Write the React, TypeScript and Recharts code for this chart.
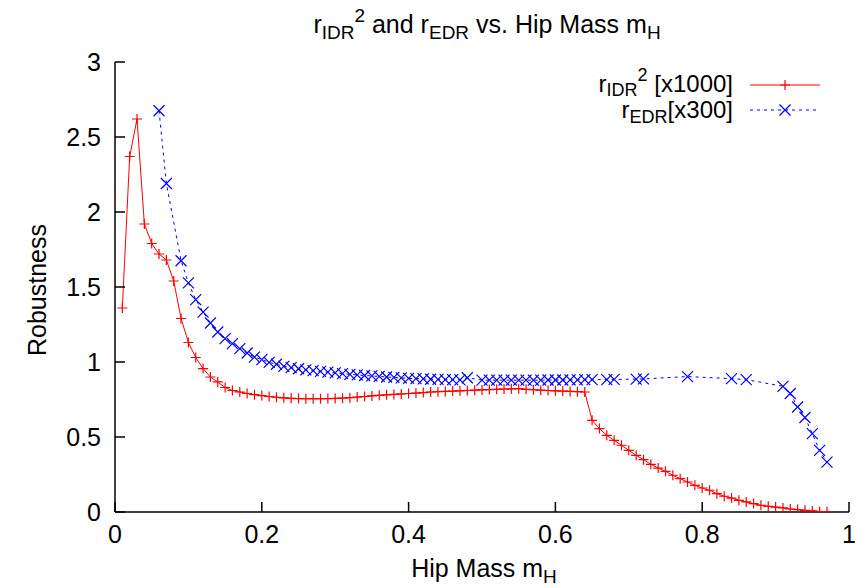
import React from 'react';
import { LineChart, Line, XAxis, YAxis } from 'recharts';

const xTicks = [0, 0.2, 0.4, 0.6, 0.8, 1];
const yTicks = [0, 0.5, 1, 1.5, 2, 2.5, 3];

const idrX = [
  0.01, 0.02, 0.03, 0.04, 0.05, 0.06, 0.07, 0.08, 0.09, 0.1,
  0.11, 0.12, 0.13, 0.14, 0.15, 0.16, 0.17, 0.18, 0.19, 0.2,
  0.21, 0.22, 0.23, 0.24, 0.25, 0.26, 0.27, 0.28, 0.29, 0.3,
  0.31, 0.32, 0.33, 0.34, 0.35, 0.36, 0.37, 0.38, 0.39, 0.4,
  0.41, 0.42, 0.43, 0.44, 0.45, 0.46, 0.47, 0.48, 0.49, 0.5,
  0.51, 0.52, 0.53, 0.54, 0.55, 0.56, 0.57, 0.58, 0.59, 0.6,
  0.61, 0.62, 0.63, 0.64, 0.65, 0.66, 0.67, 0.68, 0.69, 0.7,
  0.71, 0.72, 0.73, 0.74, 0.75, 0.76, 0.77, 0.78, 0.79, 0.8,
  0.81, 0.82, 0.83, 0.84, 0.85, 0.86, 0.87, 0.88, 0.89, 0.9,
  0.91, 0.92, 0.93, 0.94, 0.95, 0.96, 0.97,
];
const idrY = [
  1.36, 2.37, 2.62, 1.92, 1.79, 1.72, 1.68, 1.54, 1.29, 1.13,
  1.03, 0.956, 0.9, 0.867, 0.83, 0.81, 0.8, 0.79, 0.782, 0.776,
  0.77, 0.765, 0.761, 0.758, 0.756, 0.755, 0.755, 0.755, 0.756, 0.757,
  0.759, 0.762, 0.766, 0.77, 0.774, 0.778, 0.781, 0.784, 0.787, 0.79,
  0.793, 0.796, 0.8, 0.802, 0.804, 0.806, 0.808, 0.81, 0.812, 0.814,
  0.816, 0.818, 0.82, 0.821, 0.822, 0.818, 0.815, 0.812, 0.81, 0.808,
  0.806, 0.804, 0.802, 0.8, 0.611, 0.556, 0.511, 0.478, 0.445, 0.411,
  0.378, 0.349, 0.318, 0.293, 0.271, 0.245, 0.222, 0.2, 0.178, 0.16,
  0.145, 0.122, 0.105, 0.093, 0.078, 0.067, 0.056, 0.045, 0.038, 0.033,
  0.027, 0.02, 0.016, 0.011, 0.007, 0.003, 0.001,
];

const edrX = [
  0.06, 0.07, 0.09, 0.1,
  0.11, 0.12, 0.13, 0.14, 0.15, 0.16, 0.17, 0.18, 0.19, 0.2,
  0.21, 0.22, 0.23, 0.24, 0.25, 0.26, 0.27, 0.28, 0.29, 0.3,
  0.31, 0.32, 0.33, 0.34, 0.35, 0.36, 0.37, 0.38, 0.39, 0.4,
  0.41, 0.42, 0.43, 0.44, 0.45, 0.46, 0.47, 0.48, 0.5,
  0.51, 0.52, 0.53, 0.54, 0.55, 0.56, 0.57, 0.58, 0.59, 0.6,
  0.61, 0.62, 0.63, 0.64, 0.65, 0.67, 0.68, 0.71, 0.72,
  0.78, 0.84, 0.86, 0.91, 0.92, 0.93, 0.94, 0.95, 0.96, 0.97,
];
const edrY = [
  2.675, 2.19, 1.675, 1.527,
  1.416, 1.333, 1.26, 1.2, 1.156, 1.123, 1.089, 1.06, 1.033, 1.016,
  0.998, 0.985, 0.971, 0.962, 0.955, 0.948, 0.942, 0.937, 0.932, 0.927,
  0.922, 0.918, 0.914, 0.91, 0.907, 0.904, 0.9, 0.897, 0.894, 0.891,
  0.889, 0.887, 0.885, 0.884, 0.883, 0.882, 0.881, 0.895, 0.879,
  0.879, 0.879, 0.879, 0.879, 0.879, 0.879, 0.879, 0.879, 0.88, 0.88,
  0.88, 0.881, 0.881, 0.882, 0.882, 0.883, 0.884, 0.886, 0.887,
  0.903, 0.889, 0.883, 0.838, 0.79, 0.7, 0.63, 0.522, 0.411, 0.333,
];

const idrData = idrX.map((x, i) => ({ x, y: idrY[i] }));
const edrData = edrX.map((x, i) => ({ x, y: edrY[i] }));

const FONT = "'Liberation Sans', Arial, Helvetica, sans-serif";
const FS = 25;
const SUB = 19;
const LFS = 24;
const LSUB = 18;

const PlusDot = (props: any) => {
  const { cx, cy, index } = props;
  if (cx == null || cy == null) return <g key={'pe' + index} />;
  const s = 5;
  return (
    <path
      key={'p' + index}
      d={`M${cx - s},${cy}H${cx + s}M${cx},${cy - s}V${cy + s}`}
      stroke="#ff0000"
      strokeWidth={1.2}
      fill="none"
    />
  );
};

const CrossDot = (props: any) => {
  const { cx, cy, index } = props;
  if (cx == null || cy == null) return <g key={'xe' + index} />;
  const s = 5.5;
  return (
    <path
      key={'x' + index}
      d={`M${cx - s},${cy - s}L${cx + s},${cy + s}M${cx - s},${cy + s}L${cx + s},${cy - s}`}
      stroke="#0000ff"
      strokeWidth={1.2}
      fill="none"
    />
  );
};

const TL = 10;

const BottomTick = (props: any) => {
  const { x, y, payload } = props;
  return (
    <g>
      <line x1={x} y1={y} x2={x} y2={y - TL} stroke="#000" strokeWidth={1.5} />
      <text x={x} y={y + 31} textAnchor="middle" fontSize={FS} fontFamily={FONT} fill="#000">
        {payload.value}
      </text>
    </g>
  );
};

const LeftTick = (props: any) => {
  const { x, y, payload } = props;
  return (
    <g>
      <line x1={x} y1={y} x2={x + TL} y2={y} stroke="#000" strokeWidth={1.5} />
      <text x={x - 14} y={y + 9} textAnchor="end" fontSize={FS} fontFamily={FONT} fill="#000">
        {payload.value}
      </text>
    </g>
  );
};

const TopTick = (props: any) => {
  const { x, y } = props;
  return <line x1={x} y1={y} x2={x} y2={y + TL} stroke="#000" strokeWidth={1.5} />;
};

const RightTick = (props: any) => {
  const { x, y } = props;
  return <line x1={x} y1={y} x2={x - TL} y2={y} stroke="#000" strokeWidth={1.5} />;
};

const axisLine = { stroke: '#000', strokeWidth: 1.5 };

export default function App() {
  return (
    <div style={{ position: 'absolute', left: 0, top: 0, width: 866, height: 588, background: '#fff' }}>
      <LineChart width={866} height={588} margin={{ top: 62, right: 17, bottom: 0, left: 0 }}>
        <XAxis
          dataKey="x"
          type="number"
          domain={[0, 1]}
          ticks={xTicks}
          height={76}
          tickSize={0}
          tickMargin={0}
          tickLine={false}
          axisLine={axisLine}
          tick={<BottomTick />}
          allowDataOverflow
        />
        <XAxis
          xAxisId="top"
          orientation="top"
          type="number"
          domain={[0, 1]}
          ticks={xTicks}
          height={0}
          tickSize={0}
          tickMargin={0}
          tickLine={false}
          axisLine={axisLine}
          tick={<TopTick />}
          allowDataOverflow
        />
        <YAxis
          type="number"
          domain={[0, 3]}
          ticks={yTicks}
          width={115}
          tickSize={0}
          tickMargin={0}
          tickLine={false}
          axisLine={axisLine}
          tick={<LeftTick />}
          allowDataOverflow
        />
        <YAxis
          yAxisId="right"
          orientation="right"
          type="number"
          domain={[0, 3]}
          ticks={yTicks}
          width={0}
          tickSize={0}
          tickMargin={0}
          tickLine={false}
          axisLine={axisLine}
          tick={<RightTick />}
          allowDataOverflow
        />
        <Line
          data={idrData}
          dataKey="y"
          type="linear"
          stroke="#ff0000"
          strokeWidth={1}
          dot={PlusDot}
          activeDot={false}
          isAnimationActive={false}
        />
        <Line
          data={edrData}
          dataKey="y"
          type="linear"
          stroke="#0000ff"
          strokeWidth={1}
          strokeDasharray="3 4"
          dot={CrossDot}
          activeDot={false}
          isAnimationActive={false}
        />
      </LineChart>
      <svg
        width={866}
        height={588}
        style={{ position: 'absolute', left: 0, top: 0, pointerEvents: 'none' }}
        fontFamily={FONT}
      >
        <text x={487} y={33} textAnchor="middle" fontSize={FS} fill="#000">
          r<tspan dy={6} fontSize={SUB}>IDR</tspan>
          <tspan dy={-17} fontSize={SUB}>2</tspan>
          <tspan dy={11} fontSize={FS}> and r</tspan>
          <tspan dy={6} fontSize={SUB}>EDR</tspan>
          <tspan dy={-6} fontSize={FS}> vs. Hip Mass m</tspan>
          <tspan dy={6} fontSize={SUB}>H</tspan>
        </text>
        <text x={484} y={577} textAnchor="middle" fontSize={FS} fill="#000">
          Hip Mass m<tspan dy={6} fontSize={SUB}>H</tspan>
        </text>
        <text
          x={0}
          y={0}
          transform="translate(46,290) rotate(-90)"
          textAnchor="middle"
          fontSize={FS}
          fill="#000"
        >
          Robustness
        </text>
        <text x={733} y={92} textAnchor="end" fontSize={LFS} fill="#000">
          r<tspan dy={4} fontSize={LSUB}>IDR</tspan>
          <tspan dy={-15} fontSize={LSUB}>2</tspan>
          <tspan dy={11} fontSize={LFS}> [x1000]</tspan>
        </text>
        <text x={733} y={118} textAnchor="end" fontSize={LFS} fill="#000">
          r<tspan dy={5} fontSize={LSUB}>EDR</tspan>
          <tspan dy={-5} fontSize={LFS}>[x300]</tspan>
        </text>
        <line x1={750} y1={85} x2={820} y2={85} stroke="#ff0000" strokeWidth={1} />
        <path d="M780,85H790M785,80V90" stroke="#ff0000" strokeWidth={1.2} />
        <line x1={750} y1={110} x2={818} y2={110} stroke="#0000ff" strokeWidth={1} strokeDasharray="3 4" />
        <path d="M779.5,104.5L790.5,115.5M779.5,115.5L790.5,104.5" stroke="#0000ff" strokeWidth={1.2} />
      </svg>
    </div>
  );
}
